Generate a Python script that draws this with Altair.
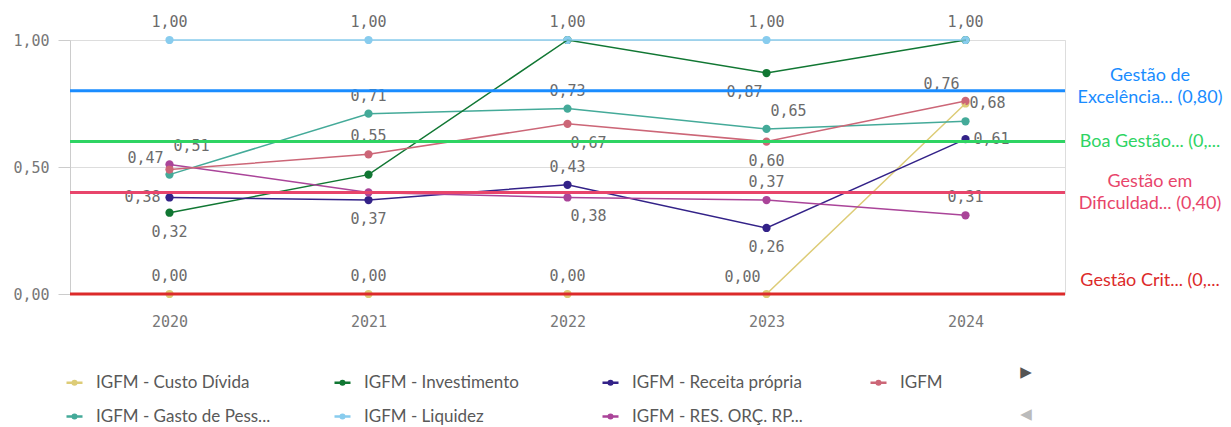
import altair as alt
import pandas as pd

years = ["2020", "2021", "2022", "2023", "2024"]

# order as listed in the legend (column by column)
series_names = [
    "IGFM - Custo Dívida",
    "IGFM - Gasto de Pess...",
    "IGFM - Investimento",
    "IGFM - Liquidez",
    "IGFM - Receita própria",
    "IGFM - RES. ORÇ. RP...",
    "IGFM",
]
series_colors = ["#ddcc77", "#44aa99", "#117733", "#88ccee", "#332288", "#aa4499", "#cc6677"]

custo_divida = [0.00, 0.00, 0.00, 0.00, 0.75]
gasto_pessoal = [0.47, 0.71, 0.73, 0.65, 0.68]
investimento = [0.32, 0.47, 1.00, 0.87, 1.00]
liquidez = [1.00, 1.00, 1.00, 1.00, 1.00]
receita_propria = [0.38, 0.37, 0.43, 0.26, 0.61]
res_orc = [0.51, 0.40, 0.38, 0.37, 0.31]
igfm = [0.49, 0.55, 0.67, 0.60, 0.76]

# label placement (categorical) for each value; "" = not shown
pos_custo = ["top", "top", "top", "topleft", ""]
pos_gasto = ["topleft", "top", "top", "topright", "topright"]
pos_invest = ["bottom", "", "", "bottomleft", ""]
pos_liq = ["top", "top", "top", "top", "top"]
pos_receita = ["left", "bottom", "top", "bottom", "right"]
pos_res = ["topright", "", "bottomright", "top", "top"]
pos_igfm = ["", "top", "bottomright", "bottom", "topleft"]

ref_names = ["Gestão de\nExcelência... (0,80)", "Boa Gestão... (0,...",
             "Gestão em\nDificuldad... (0,40)", "Gestão Crit... (0,..."]
ref_values = [0.80, 0.60, 0.40, 0.00]
ref_colors = ["#1a8cff", "#2ed463", "#e8456b", "#dc2a2a"]

all_vals = [custo_divida, gasto_pessoal, investimento, liquidez, receita_propria, res_orc, igfm]
all_pos = [pos_custo, pos_gasto, pos_invest, pos_liq, pos_receita, pos_res, pos_igfm]

rows = []
for name, vals, poss in zip(series_names, all_vals, all_pos):
    for yr, v, p in zip(years, vals, poss):
        rows.append({"ano": yr, "serie": name, "valor": v, "pos": p,
                     "rotulo": f"{v:.2f}".replace(".", ",")})
df = pd.DataFrame(rows)
ref_df = pd.DataFrame({"nome": ref_names, "valor": ref_values})

W, H = 995, 254
MONO = "DejaVu Sans Mono"
SANS = "Lato"

x_enc = alt.X("ano:O", title=None,
              axis=alt.Axis(labelAngle=0, domain=False, ticks=False, grid=False,
                            labelPadding=20, labelFont=MONO, labelFontSize=15,
                            labelColor="#777777"))
y_enc = alt.Y("valor:Q", title=None,
              scale=alt.Scale(domain=[0, 1], nice=False),
              axis=alt.Axis(values=[0, 0.5, 1], domain=True, domainColor="#cccccc",
                            ticks=True, tickSize=12, tickColor="#cccccc",
                            grid=True, gridColor="#dddddd", labelPadding=9,
                            labelFont=MONO, labelFontSize=15, labelColor="#777777",
                            labelExpr="replace(format(datum.value, '.2f'), '.', ',')"))

color_scale = alt.Scale(domain=series_names, range=series_colors)

# stroked legend glyph: a short line with a dot in the middle
legend_symbol = ("M-1,0H1 "
                 "M-0.22,0A0.22,0.22 0 1,0 0.22,0A0.22,0.22 0 1,0 -0.22,0Z "
                 "M-0.1,0A0.1,0.1 0 1,0 0.1,0A0.1,0.1 0 1,0 -0.1,0Z")

legend = alt.Legend(orient="none", legendX=-5, legendY=333, columns=4,
                    title=None, symbolType=legend_symbol,
                    symbolSize=256, symbolStrokeWidth=2.6, symbolOpacity=1,
                    labelFont=SANS, labelFontSize=17,
                    labelColor="#595959", labelOffset=12,
                    gridAlign="all", columnPadding=58, rowPadding=16,
                    labelLimit=300)

base = alt.Chart(df)

points = base.mark_point(filled=True, size=68, opacity=1).encode(
    x=x_enc, y=y_enc,
    color=alt.Color("serie:N", scale=color_scale, sort=series_names, legend=legend),
)
lines = base.mark_line(strokeWidth=1.5).encode(
    x="ano:O", y="valor:Q",
    color=alt.Color("serie:N", scale=color_scale, sort=series_names, legend=legend),
    detail="serie:N",
)

placements = {
    "top": dict(dx=0, dy=-18, align="center"),
    "bottom": dict(dx=0, dy=19, align="center"),
    "left": dict(dx=-9, dy=0, align="right"),
    "right": dict(dx=8, dy=0, align="left"),
    "topleft": dict(dx=-6, dy=-17, align="right"),
    "topright": dict(dx=4, dy=-18, align="left"),
    "bottomleft": dict(dx=-4, dy=19, align="right"),
    "bottomright": dict(dx=3, dy=19, align="left"),
}
label_layers = []
for p, opts in placements.items():
    label_layers.append(
        base.transform_filter(alt.datum.pos == p).mark_text(
            font=MONO, fontSize=15, color="#6b6b6b", baseline="middle", **opts
        ).encode(x="ano:O", y="valor:Q", text="rotulo:N")
    )

ref_base = alt.Chart(ref_df)
ref_fill = alt.Fill("nome:N", scale=alt.Scale(domain=ref_names, range=ref_colors), legend=None)
ref_rules = ref_base.mark_rule(strokeWidth=3).encode(
    y="valor:Q",
    stroke=alt.Stroke("nome:N", scale=alt.Scale(domain=ref_names, range=ref_colors), legend=None),
)

ref_label_shift = {0.80: -15, 0.60: 0, 0.40: -10, 0.00: -13}
ref_text_layers = []
for val, shift in ref_label_shift.items():
    ref_text_layers.append(
        ref_base.transform_filter(alt.datum.valor == val).mark_text(
            font=SANS, fontSize=18, align="center", baseline="middle",
            lineBreak="\n", lineHeight=22, dy=shift
        ).encode(x=alt.value(W + 85), y="valor:Q", text="nome:N", fill=ref_fill)
    )

arrow_df = pd.DataFrame({"s": ["▶", "◀"]})
arrow_up = alt.Chart(arrow_df).transform_filter(alt.datum.s == "▶").mark_text(
    fontSize=15, color="#555555", font="DejaVu Sans").encode(
    x=alt.value(956), y=alt.value(332), text="s:N")
arrow_dn = alt.Chart(arrow_df).transform_filter(alt.datum.s == "◀").mark_text(
    fontSize=15, color="#bbbbbb", font="DejaVu Sans").encode(
    x=alt.value(956), y=alt.value(374), text="s:N")

chart = alt.layer(
    points, lines, *label_layers, ref_rules, *ref_text_layers, arrow_up, arrow_dn
).properties(
    width=W, height=H,
    autosize=alt.AutoSizeParams(type="none"),
    padding={"left": 62, "top": 32, "right": 158, "bottom": 150},
).configure_view(stroke=None).configure(background="white")

chart.save("out.html", embed_options={"renderer": "svg", "actions": False})
